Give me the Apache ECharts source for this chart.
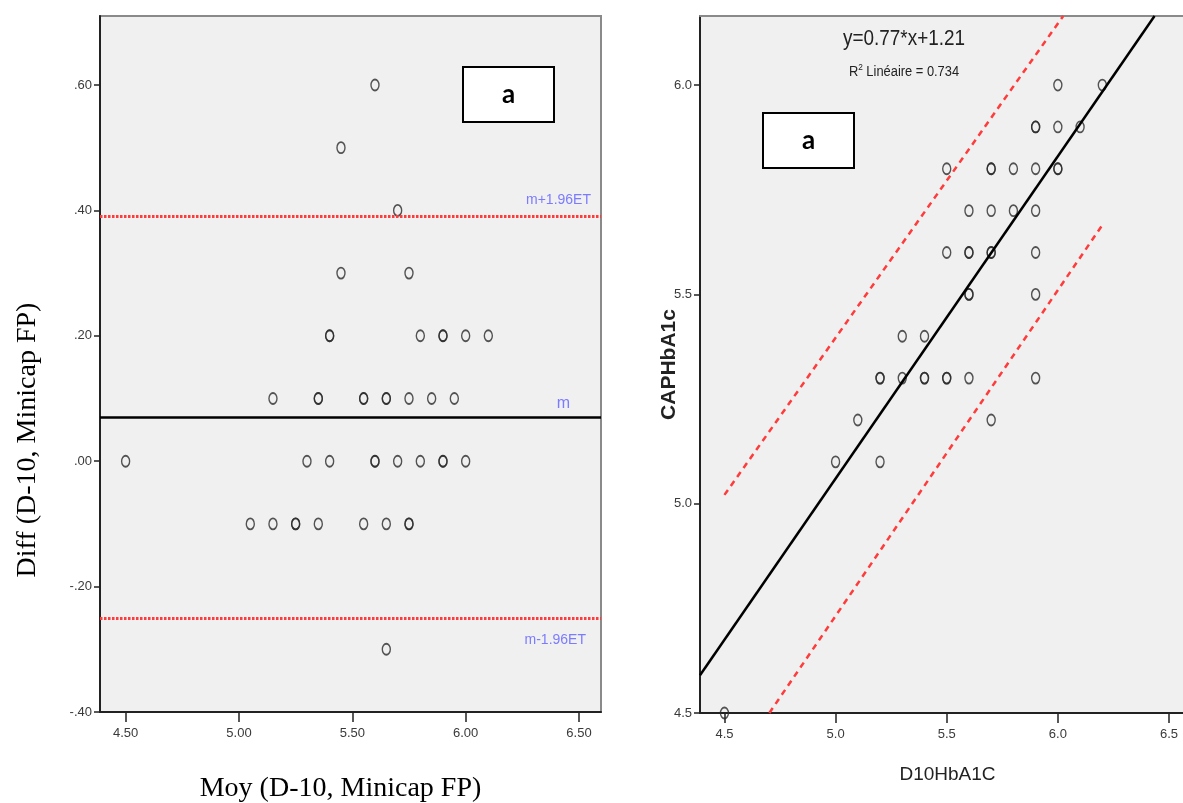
<!DOCTYPE html>
<html><head><meta charset="utf-8">
<script src="https://cdn.jsdelivr.net/npm/echarts@6/dist/echarts.min.js"></script>
<style>html,body{margin:0;padding:0;background:#fff}#c{width:1183px;height:803px}</style>
</head><body><div id="c"></div>
<script>
// ---- Bland-Altman (left) ----
const baMean = [5.60, 5.45, 5.70, 5.45, 5.75,
  5.40, 5.40, 5.80, 5.90, 5.90, 6.00, 6.10,
  5.15, 5.35, 5.35, 5.55, 5.55, 5.65, 5.65, 5.75, 5.85, 5.95,
  4.50, 5.30, 5.40, 5.60, 5.60, 5.70, 5.80, 5.90, 5.90, 6.00,
  5.05, 5.15, 5.25, 5.25, 5.35, 5.55, 5.65, 5.75, 5.75,
  5.65];
const baDiff = [0.6, 0.5, 0.4, 0.3, 0.3,
  0.2, 0.2, 0.2, 0.2, 0.2, 0.2, 0.2,
  0.1, 0.1, 0.1, 0.1, 0.1, 0.1, 0.1, 0.1, 0.1, 0.1,
  0, 0, 0, 0, 0, 0, 0, 0, 0, 0,
  -0.1, -0.1, -0.1, -0.1, -0.1, -0.1, -0.1, -0.1, -0.1,
  -0.3];
const meanDiff = 0.07, upperLoA = 0.39, lowerLoA = -0.25;
const baXTicks = [4.5, 5.0, 5.5, 6.0, 6.5];
const baYTicks = [-0.4, -0.2, 0, 0.2, 0.4, 0.6];

// ---- Scatter / regression (right) ----
const d10 = [6.0, 6.2,
  5.9, 5.9, 6.0, 6.1,
  5.5, 5.7, 5.7, 5.8, 5.9, 6.0, 6.0,
  5.6, 5.7, 5.8, 5.9,
  5.5, 5.6, 5.6, 5.7, 5.7, 5.9,
  5.6, 5.6, 5.9,
  5.3, 5.4,
  5.2, 5.2, 5.3, 5.4, 5.4, 5.5, 5.5, 5.6, 5.9,
  5.1, 5.7,
  5.0, 5.2,
  4.5];
const caph = [6.0, 6.0,
  5.9, 5.9, 5.9, 5.9,
  5.8, 5.8, 5.8, 5.8, 5.8, 5.8, 5.8,
  5.7, 5.7, 5.7, 5.7,
  5.6, 5.6, 5.6, 5.6, 5.6, 5.6,
  5.5, 5.5, 5.5,
  5.4, 5.4,
  5.3, 5.3, 5.3, 5.3, 5.3, 5.3, 5.3, 5.3, 5.3,
  5.2, 5.2,
  5.1, 5.1,
  4.5];
const fitLine = [[4.39, 4.590], [6.435, 6.165]];
const upperBand = [[4.5, 5.021], [6.024, 6.165]];
const lowerBand = [[4.702, 4.5], [6.203, 5.668]];
const scXTicks = [4.5, 5.0, 5.5, 6.0, 6.5];
const scYTicks = [4.5, 5.0, 5.5, 6.0];

const SANS = '"Liberation Sans", Arial, sans-serif';
const SERIF = '"Liberation Serif", "DejaVu Serif", serif';

const chart = echarts.init(document.getElementById('c'), null, {renderer: 'canvas'});

const pointStyle = {color: 'rgba(0,0,0,0)', borderColor: '#2a2a2a', borderWidth: 1.6};
const axisLineStyle = {onZero: false, lineStyle: {color: '#222', width: 2}};
const tickLabel = {color: '#3a3a3a', fontFamily: SANS, fontSize: 13};

const option = {
  animation: false,
  backgroundColor: '#ffffff',
  grid: [
    {left: 100, top: 16, width: 501, height: 696, outerBoundsMode: 'none', containLabel: false,
     show: true, backgroundColor: '#f0f0f0', borderColor: '#8a8a8a', borderWidth: 2},
    {left: 700, top: 16, right: 0, height: 697, outerBoundsMode: 'none', containLabel: false,
     show: true, backgroundColor: '#f0f0f0', borderWidth: 0}
  ],
  xAxis: [
    {type: 'value', gridIndex: 0, min: 4.387, max: 6.597,
     axisLine: axisLineStyle, splitLine: {show: false},
     axisTick: {show: true, length: 10, lineStyle: {color: '#222', width: 1.5}, customValues: baXTicks},
     axisLabel: Object.assign({margin: 15, customValues: baXTicks, formatter: v => v.toFixed(2)}, tickLabel),
     name: 'Moy (D-10, Minicap FP)', nameLocation: 'middle', nameGap: 63, nameMoveOverlap: false,
     nameTextStyle: {fontFamily: SERIF, fontSize: 28, color: '#000', padding: [0, 20, 0, 0]}},
    {type: 'value', gridIndex: 1, min: 4.39, max: 6.563,
     axisLine: axisLineStyle, splitLine: {show: false},
     axisTick: {show: true, length: 10, lineStyle: {color: '#222', width: 1.5}, customValues: scXTicks},
     axisLabel: Object.assign({margin: 15, customValues: scXTicks, formatter: v => v.toFixed(1)}, tickLabel),
     name: 'D10HbA1C', nameLocation: 'middle', nameGap: 52, nameMoveOverlap: false,
     nameTextStyle: {fontFamily: SANS, fontSize: 19, color: '#222', padding: [0, 0, 0, 12]}},
    {type: 'value', gridIndex: 1, min: 4.39, max: 6.563, position: 'top',
     axisLine: {onZero: false, lineStyle: {color: '#8a8a8a', width: 2}},
     axisTick: {show: false}, axisLabel: {show: false}, splitLine: {show: false}}
  ],
  yAxis: [
    {type: 'value', gridIndex: 0, min: -0.4, max: 0.71,
     axisLine: axisLineStyle, splitLine: {show: false},
     axisTick: {show: true, length: 6, lineStyle: {color: '#222', width: 1.5}, customValues: baYTicks},
     axisLabel: Object.assign({margin: 8, customValues: baYTicks,
       formatter: v => v.toFixed(2).replace(/^(-?)0\./, '$1.')}, tickLabel)},
    {type: 'value', gridIndex: 1, min: 4.5, max: 6.165,
     axisLine: axisLineStyle, splitLine: {show: false},
     axisTick: {show: true, length: 6, lineStyle: {color: '#222', width: 1.5}, customValues: scYTicks},
     axisLabel: Object.assign({margin: 8, customValues: scYTicks, formatter: v => v.toFixed(1)}, tickLabel),
     name: 'CAPHbA1c', nameLocation: 'middle', nameGap: 20, nameRotate: 90, nameMoveOverlap: false,
     nameTextStyle: {fontFamily: SANS, fontWeight: 'bold', fontSize: 21, color: '#222'}}
  ],
  series: [
    {type: 'scatter', xAxisIndex: 0, yAxisIndex: 0, symbol: 'circle', symbolSize: [8, 11],
     itemStyle: pointStyle, clip: false,
     data: baMean.map((m, i) => [m, baDiff[i]]),
     markLine: {
       silent: true, symbol: 'none', animation: false,
       data: [
         {yAxis: meanDiff, lineStyle: {color: '#000', width: 2.5, type: 'solid'},
          label: {show: true, formatter: 'm', position: 'insideEndTop', color: '#7b7bff', fontFamily: SANS, fontSize: 16, padding: [0, 25, 0, 0], distance: 6}},
         {yAxis: upperLoA, lineStyle: {color: '#ff3b3b', width: 3, type: [2.5, 1.5]},
          label: {show: true, formatter: 'm+1.96ET', position: 'insideEndTop', color: '#7b7bff', fontFamily: SANS, fontSize: 14, padding: [0, 0, 0, 0], distance: 10}},
         {yAxis: lowerLoA, lineStyle: {color: '#ff3b3b', width: 3, type: [2.5, 1.5]},
          label: {show: true, formatter: 'm-1.96ET', position: 'insideEndBottom', color: '#7b7bff', fontFamily: SANS, fontSize: 14, padding: [0, 0, 0, 0], distance: 15}}
       ]
     }},
    {type: 'line', xAxisIndex: 1, yAxisIndex: 1, data: upperBand, symbol: 'none',
     lineStyle: {color: '#ff3b3b', width: 2.5, type: [6, 5]}},
    {type: 'line', xAxisIndex: 1, yAxisIndex: 1, data: lowerBand, symbol: 'none',
     lineStyle: {color: '#ff3b3b', width: 2.5, type: [6, 5]}},
    {type: 'line', xAxisIndex: 1, yAxisIndex: 1, data: fitLine, symbol: 'none',
     lineStyle: {color: '#000', width: 2.5}},
    {type: 'scatter', xAxisIndex: 1, yAxisIndex: 1, symbol: 'circle', symbolSize: [8, 11],
     itemStyle: pointStyle, clip: false,
     data: d10.map((x, i) => [x, caph[i]])}
  ],
  graphic: [
    {type: 'text', x: 28, y: 440, rotation: Math.PI / 2,
     style: {text: 'Diff (D-10, Minicap FP)', fill: '#000', font: '28px ' + SERIF, textAlign: 'center', textVerticalAlign: 'middle'}},
    {type: 'group', left: 462, top: 66, children: [
      {type: 'rect', shape: {x: 0, y: 0, width: 91, height: 55}, style: {fill: '#fff', stroke: '#000', lineWidth: 2}},
      {type: 'text', x: 45.5, y: 28, style: {text: 'a', fill: '#000', font: 'bold 26px Lato, "Open Sans", sans-serif', textAlign: 'center', textVerticalAlign: 'middle'}}
    ]},
    {type: 'group', left: 762, top: 112, children: [
      {type: 'rect', shape: {x: 0, y: 0, width: 91, height: 55}, style: {fill: '#fff', stroke: '#000', lineWidth: 2}},
      {type: 'text', x: 45.5, y: 28, style: {text: 'a', fill: '#000', font: 'bold 26px Lato, "Open Sans", sans-serif', textAlign: 'center', textVerticalAlign: 'middle'}}
    ]},
    {type: 'text', x: 904, y: 39, scaleX: 0.86,
     style: {text: 'y=0.77*x+1.21', fill: '#222', font: '22px ' + SANS, textAlign: 'center', textVerticalAlign: 'middle'}},
    {type: 'text', x: 904, y: 72, scaleX: 0.92, style: {
      text: '{r|R}{s|2}{r| Linéaire = 0.734}', textAlign: 'center', textVerticalAlign: 'middle',
      rich: {r: {fontFamily: SANS, fontSize: 14, fill: '#222', color: '#222'},
             s: {fontFamily: SANS, fontSize: 9, fill: '#222', color: '#222', verticalAlign: 'top', padding: [0, 0, 8, 0]}}}}
  ]
};
chart.setOption(option);
</script>
</body></html>
